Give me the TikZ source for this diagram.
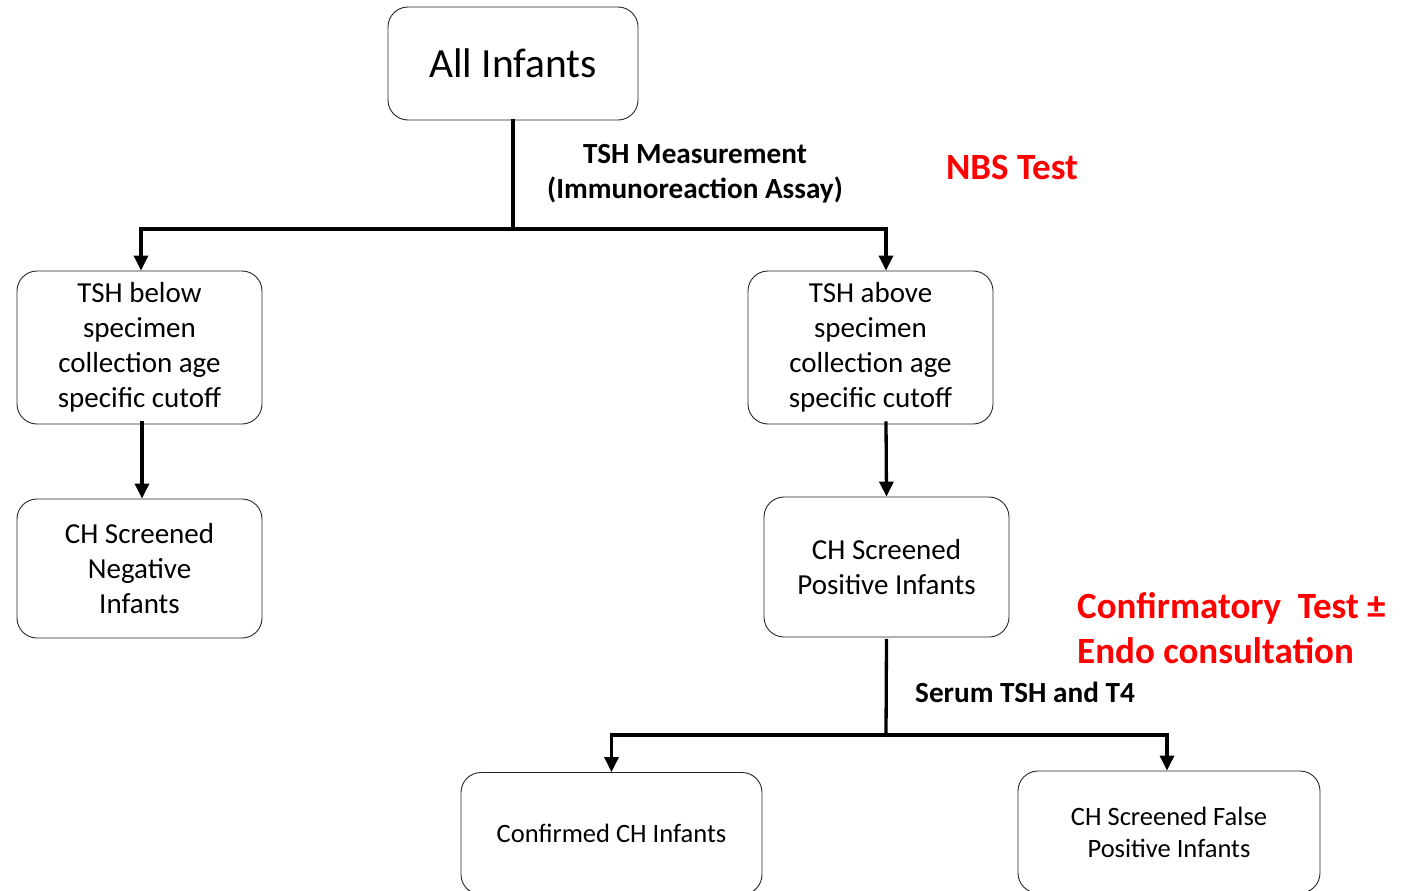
\documentclass[tikz,border=0pt]{standalone}
\usepackage{fontspec}
\setmainfont{Carlito}
\usetikzlibrary{arrows.meta}
\begin{document}
\begin{tikzpicture}[x=1pt,y=-1pt,
  box/.style={draw=black!85,line width=0.9pt,rounded corners=20pt,align=center,inner sep=0pt,font=\fontsize{29}{35}\selectfont},
  smallbox/.style={box,font=\fontsize{26.5}{32}\selectfont},
  conn/.style={line width=3.3pt,line cap=rect},
  arr/.style={line width=3.3pt,-{Triangle[length=15pt,width=14pt]}},
  lbl/.style={font=\bfseries\fontsize{29.2}{35}\selectfont,align=center,inner sep=0pt},
  red/.style={font=\bfseries\fontsize{37}{45}\selectfont,text={rgb,255:red,255;green,0;blue,0},inner sep=0pt,align=left}
]
\useasboundingbox (0,0) rectangle (1414,891);
\clip (0,0) rectangle (1414,891);
\fill[white] (0,0) rectangle (1414,891);

\node[box,minimum width=250pt,minimum height=113pt,font=\fontsize{41.5}{45}\selectfont] (all) at (513,63.5) {All Infants};
\node[box,minimum width=245pt,minimum height=153pt] (below) at (139.5,347.5) {TSH below\\specimen\\collection age\\specific cutoff};
\node[box,minimum width=245pt,minimum height=153pt] (above) at (870.5,347.5) {TSH above\\specimen\\collection age\\specific cutoff};
\node[box,minimum width=245pt,minimum height=139pt] (neg) at (139.5,568.5) {CH Screened\\Negative\\Infants};
\node[box,minimum width=245pt,minimum height=140pt] (pos) at (886.5,567) {CH Screened\\Positive Infants};
\node[smallbox,minimum width=301pt,minimum height=122pt] (conf) at (611.5,833.5) {Confirmed CH Infants};
\node[smallbox,minimum width=302pt,minimum height=122pt] (fp) at (1169,832) {CH Screened False\\Positive Infants};

\node[lbl] (tsh) at (695,174) {TSH Measurement\\(Immunoreaction Assay)};
\node[red] (nbs) at (1012,168) {NBS Test};
\node[lbl,anchor=west] (serum) at (915,692) {Serum TSH and T4};
\node[red,anchor=west] (conf2) at (1077,628) {Confirmatory\ \ Test ±\\Endo consultation};

\coordinate (j1) at (513,229);
\coordinate (j2) at (886,735);

\draw[conn] (all.south) -- (j1);
\draw[arr] (j1) -| ([xshift=1.5pt]below.north);
\draw[arr] (j1) -| ([xshift=15.5pt]above.north);
\draw[arr] ([xshift=2.5pt,yshift=3pt]below.south) -- ([xshift=2.5pt]neg.north);
\draw[arr] ([xshift=15.5pt,yshift=3pt]above.south) -- (pos.north);
\draw[conn] ([yshift=-3pt]pos.south) -- (j2);
\draw[arr] (j2) -| (conf.north);
\draw[arr] (j2) -| ([xshift=-2pt]fp.north);
\end{tikzpicture}
\end{document}
